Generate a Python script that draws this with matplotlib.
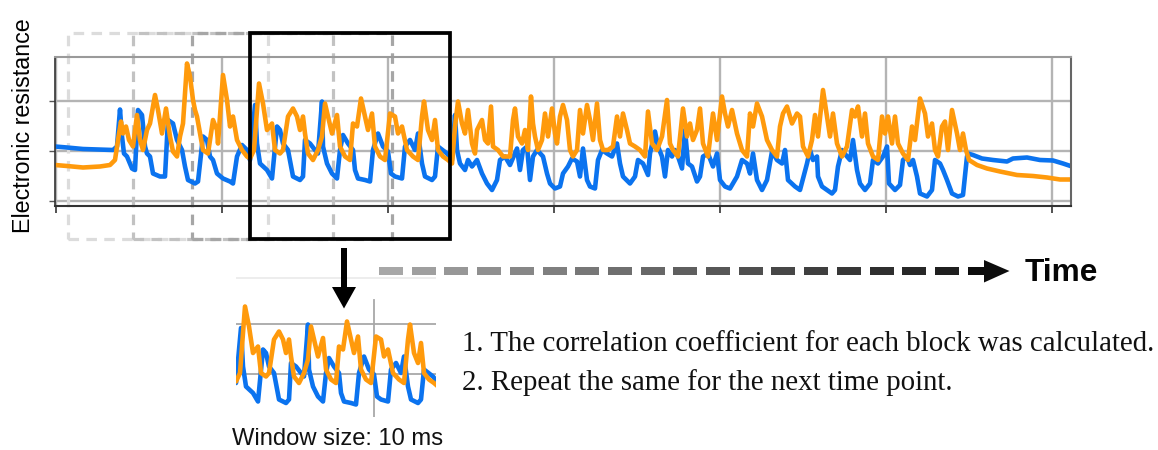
import numpy as np
import matplotlib
matplotlib.use("Agg")
import matplotlib.pyplot as plt
from matplotlib.transforms import Affine2D, blended_transform_factory
from matplotlib.patches import Rectangle, Polygon

# ---------------- data (x = sample index, 20 samples per ms; y = resistance, a.u.) ----
blue_x = [0, 12, 28, 58, 62, 65, 67, 69, 72, 77, 80, 83, 87, 90, 92, 95, 98, 105, 110, 113,
          118, 122, 127, 130, 133, 140, 143, 148, 152, 155, 158, 162, 168, 175, 178, 182, 187,
          192, 195, 200, 202, 205, 212, 217, 222, 225, 228, 233, 238, 245, 248, 250, 255, 260,
          263, 267, 268, 272, 277, 282, 285, 288, 293, 298, 300, 303, 310, 315, 318, 323, 328,
          333, 336, 340, 347, 350, 355, 360, 363, 367, 370, 377, 380, 383, 392, 397, 400, 402,
          405, 410, 413, 417, 422, 427, 432, 437, 442, 445, 450, 455, 462, 465, 468, 472, 475,
          478, 482, 488, 492, 495, 500, 505, 508, 513, 517, 522, 525, 528, 532, 535, 540, 543,
          547, 552, 557, 562, 565, 568, 575, 580, 583, 588, 593, 595, 600, 603, 607, 610, 613,
          617, 620, 623, 627, 630, 633, 637, 642, 645, 648, 653, 658, 662, 665, 670, 675, 682,
          687, 692, 695, 698, 702, 707, 712, 717, 722, 727, 730, 733, 740, 745, 752, 755, 758,
          762, 763, 767, 772, 777, 780, 783, 787, 792, 795, 798, 802, 805, 810, 815, 818, 823,
          828, 832, 834, 840, 845, 848, 852, 855, 858, 862, 865, 872, 877, 880, 885, 888, 892,
          897, 903, 908, 912, 913, 918, 927, 938, 952, 958, 972, 985, 998, 1008, 1017]
blue_y = [1.09, 1.07, 1.04, 1.02, 1.09, 1.83, 1.29, 0.95, 0.89, 0.65, 0.62, 1.82, 1.72, 1.09,
          0.95, 0.89, 0.55, 0.49, 0.49, 1.62, 1.55, 1.22, 1.02, 0.69, 0.42, 0.35, 0.39, 1.29,
          1.22, 0.89, 0.82, 0.55, 0.45, 0.39, 0.35, 0.89, 1.12, 1.02, 0.82, 1.92, 1.15, 0.75,
          0.62, 0.45, 1.49, 1.42, 1.15, 1.02, 0.49, 0.42, 0.49, 1.22, 1.15, 1.02, 0.95, 1.99,
          1.09, 0.75, 0.55, 0.45, 1.02, 1.32, 1.15, 1.02, 0.62, 0.45, 0.42, 0.39, 1.02, 1.35,
          1.09, 0.99, 0.55, 0.49, 0.45, 1.09, 1.22, 1.02, 1.35, 0.75, 0.49, 0.42, 0.49, 1.09,
          0.95, 0.82, 1.72, 1.02, 0.75, 0.62, 0.82, 0.69, 0.82, 0.55, 0.35, 0.22, 0.42, 0.82,
          0.89, 0.72, 1.05, 0.62, 1.02, 1.09, 0.42, 0.89, 1.02, 0.89, 0.55, 0.35, 0.25, 0.29,
          0.55, 0.69, 0.85, 0.79, 0.49, 1.05, 0.42, 0.29, 0.25, 0.82, 1.02, 0.95, 0.89, 1.15,
          0.75, 0.49, 0.35, 0.49, 0.82, 0.75, 0.52, 0.95, 1.39, 1.09, 0.89, 0.49, 1.02, 0.89,
          1.02, 0.89, 0.65, 1.42, 0.75, 0.69, 0.39, 0.49, 0.89, 0.95, 0.69, 0.95, 0.42, 0.29,
          0.25, 0.49, 0.82, 0.75, 0.55, 0.95, 0.42, 0.22, 0.42, 0.99, 0.82, 0.75, 1.02, 0.42,
          0.29, 0.22, 0.75, 1.02, 0.82, 0.89, 0.49, 0.29, 0.22, 0.15, 0.22, 0.69, 1.02, 0.89,
          0.82, 1.22, 0.62, 0.35, 0.22, 0.35, 0.82, 0.75, 0.89, 1.09, 0.35, 0.22, 0.32, 0.82,
          0.89, 0.72, 0.82, 0.49, 0.15, 0.09, 0.22, 0.82, 0.75, 0.62, 0.42, 0.15, 0.09, 0.12,
          0.89, 0.95, 0.92, 0.85, 0.82, 0.79, 0.85, 0.87, 0.82, 0.81, 0.75, 0.69]

orange_x = [0, 12, 28, 45, 55, 60, 63, 66, 68, 71, 74, 78, 82, 85, 88, 92, 95, 100, 103, 107,
            111, 115, 118, 122, 125, 128, 132, 135, 138, 140, 142, 145, 148, 153, 158, 162,
            163, 168, 172, 175, 178, 182, 187, 192, 195, 199, 204, 208, 212, 217, 220, 225,
            228, 233, 238, 242, 245, 248, 250, 253, 258, 263, 267, 270, 273, 277, 282, 285,
            290, 295, 298, 302, 306, 310, 313, 317, 320, 325, 330, 335, 340, 343, 347, 352,
            358, 363, 367, 369, 373, 377, 380, 383, 388, 393, 397, 400, 403, 407, 410, 413,
            417, 420, 422, 427, 430, 433, 436, 438, 443, 448, 455, 458, 460, 463, 467, 470,
            473, 476, 478, 480, 483, 487, 490, 493, 497, 500, 502, 505, 508, 512, 515, 518,
            522, 525, 528, 532, 535, 538, 542, 545, 548, 553, 558, 562, 565, 568, 572, 575,
            580, 585, 590, 593, 597, 602, 607, 612, 615, 618, 623, 628, 632, 635, 638, 642,
            645, 648, 653, 658, 662, 667, 670, 673, 677, 682, 687, 692, 695, 698, 702, 707,
            712, 717, 722, 725, 728, 732, 737, 742, 745, 748, 753, 757, 760, 763, 768, 772,
            775, 778, 782, 787, 792, 797, 800, 803, 807, 810, 813, 818, 823, 827, 830, 833,
            837, 840, 843, 848, 853, 857, 860, 865, 870, 873, 877, 880, 883, 887, 890, 893,
            897, 902, 905, 908, 911, 914, 922, 932, 945, 962, 978, 992, 1005, 1017]
orange_y = [0.72, 0.70, 0.67, 0.69, 0.72, 0.82, 1.22, 1.59, 1.35, 1.49, 1.22, 1.09, 1.72,
            1.22, 1.02, 1.42, 1.55, 2.12, 1.82, 1.35, 1.85, 1.29, 0.99, 0.89, 1.29, 1.55,
            2.75, 2.49, 2.02, 1.82, 1.69, 1.35, 1.02, 0.95, 1.62, 1.42, 1.15, 2.52, 2.02,
            1.49, 1.69, 1.22, 1.02, 0.89, 0.85, 1.02, 2.35, 1.95, 1.42, 1.55, 1.02, 0.95,
            1.02, 1.69, 1.85, 1.69, 1.42, 1.69, 1.35, 0.95, 0.82, 1.02, 1.29, 1.95, 1.69,
            1.35, 1.72, 1.09, 0.89, 0.82, 1.55, 1.49, 2.05, 1.69, 1.42, 1.75, 1.09, 0.89,
            0.82, 1.75, 1.69, 1.35, 1.49, 1.02, 0.89, 0.82, 1.69, 1.99, 1.42, 1.22, 1.62,
            1.02, 0.89, 0.82, 0.75, 1.49, 1.99, 1.55, 1.35, 1.82, 1.15, 0.95, 1.42, 1.62,
            1.22, 1.15, 1.89, 1.09, 1.02, 0.89, 0.89, 1.62, 1.85, 1.29, 1.15, 1.42, 1.02,
            2.09, 1.55, 1.29, 1.02, 1.22, 1.75, 1.29, 1.85, 1.35, 1.15, 1.69, 1.92, 1.62,
            1.02, 0.89, 1.02, 1.82, 1.35, 1.92, 1.62, 1.22, 1.95, 1.22, 1.02, 1.02, 1.09,
            1.69, 1.29, 1.75, 1.42, 1.15, 1.09, 1.02, 0.89, 1.79, 1.15, 1.02, 1.29, 2.02,
            1.15, 1.02, 0.89, 1.85, 1.29, 1.55, 1.22, 1.42, 1.85, 1.15, 0.89, 1.75, 1.22,
            2.09, 1.75, 1.49, 1.82, 1.35, 1.02, 0.89, 1.75, 1.49, 1.95, 1.69, 1.22, 1.02,
            0.89, 1.49, 1.75, 1.89, 1.55, 1.75, 1.69, 1.09, 0.89, 1.22, 1.72, 1.29, 2.22,
            1.69, 1.29, 1.75, 1.15, 0.89, 1.09, 1.82, 1.69, 1.89, 1.29, 1.75, 1.15, 0.89,
            0.82, 1.69, 1.35, 1.69, 1.15, 1.69, 1.15, 0.95, 0.82, 1.49, 1.22, 2.05, 1.75,
            1.29, 1.55, 1.02, 0.89, 1.49, 1.59, 1.02, 1.82, 1.35, 1.02, 1.35, 1.02, 0.82,
            0.72, 0.65, 0.59, 0.52, 0.50, 0.47, 0.43, 0.43]

window_starts = [13, 78, 137, 195]   # sliding windows (samples)
window_len = 200                     # 10 ms
grid_x = [1, 167, 333, 499, 665, 831, 997]
grid_y = [0, 1, 2]

ylabel = "Electronic resistance"
window_text = "Window size: 10 ms"
step_texts = ["1. The correlation coefficient for each block was calculated.",
              "2. Repeat the same for the next time point."]
time_text = "Time"

BLUE = "#0b73ef"
ORANGE = "#ff9a0c"
LW = 3.3

# ---------------- figure ----------------
W, H = 1158, 450
fig = plt.figure(figsize=(W / 100, H / 100), dpi=100)
pix = Affine2D().scale(1 / W, -1 / H).translate(0, 1) + fig.transFigure


def fig_box(x0, y0, x1, y1):
    return [x0 / W, 1 - y1 / H, (x1 - x0) / W, (y1 - y0) / H]


ax = fig.add_axes(fig_box(55, 57, 1071, 205.7))
ax.set_xlim(0, 1016)
ax.set_ylim(-0.094, 2.88)
ax.set_axisbelow(True)
ax.set_xticks(grid_x)
ax.set_yticks(grid_y)
ax.set_xticklabels([])
ax.set_yticklabels([])
ax.grid(True, color="#b4b4b4", lw=1.7)
ax.tick_params(axis="x", direction="out", length=5, width=1.2, color="#333333")
ax.tick_params(axis="y", direction="out", length=4, width=1.0, color="#555555")
ax.spines["left"].set_color("#333333")
ax.spines["left"].set_linewidth(1.2)
ax.spines["bottom"].set_color("#333333")
ax.spines["bottom"].set_linewidth(1.5)
ax.spines["top"].set_color("#9a9a9a")
ax.spines["top"].set_linewidth(1.5)
ax.spines["right"].set_color("#666666")
ax.spines["right"].set_linewidth(1.5)

ax.plot(blue_x, blue_y, color=BLUE, lw=LW, zorder=2, solid_joinstyle="round")
ax.plot(orange_x, orange_y, color=ORANGE, lw=LW, zorder=2.1, solid_joinstyle="round")

# sliding windows
bt = blended_transform_factory(ax.transData, ax.transAxes)
y_lo = (205.7 - 239.3) / 148.7
y_hi = (205.7 - 33.5) / 148.7
win_colors = ["#dcdcdc", "#c2c2c2", "#a6a6a6"]
for s, c in zip(window_starts[:-1], win_colors):
    ax.add_patch(Rectangle((s, y_lo), window_len, y_hi - y_lo, transform=bt,
                           fill=False, ec=c, lw=2.3, ls=(0, (3.3, 2.3)),
                           clip_on=False, zorder=1.5))
ax.add_patch(Rectangle((window_starts[-1], y_lo), window_len, y_hi - y_lo, transform=bt,
                       fill=False, ec="black", lw=2.7, clip_on=False, zorder=3))

# inset: the current window
s0 = window_starts[-1]
iax = fig.add_axes(fig_box(236, 276, 436, 417))
iax.set_xlim(s0, s0 + window_len)
iax.set_ylim(0.14, 2.96)
for sp in iax.spines.values():
    sp.set_visible(False)
iax.set_xticks([])
iax.set_yticks([])
iax.patch.set_alpha(0)
for gy in grid_y[1:]:
    iax.axhline(gy, color="#a8a8a8", lw=1.3, zorder=0.5)
iax.axhline(2.93, color="#ececec", lw=1.3, zorder=0.5)
iax.axvline(grid_x[2], ymin=0, ymax=(2.48 - 0.14) / 2.82, color="#a8a8a8", lw=1.3,
            zorder=0.5)
iax.plot(blue_x, blue_y, color=BLUE, lw=LW, zorder=2, solid_joinstyle="round")
iax.plot(orange_x, orange_y, color=ORANGE, lw=LW, zorder=2.1, solid_joinstyle="round")

# down arrow
fig.add_artist(Polygon([(341, 248), (347, 248), (347, 287), (356, 287), (344, 308.5),
                        (332, 287), (341, 287)], closed=True, transform=pix,
                       fc="black", ec="none"))

# dashed time arrow with gradient
n_dash = 18
for i in range(n_dash):
    g = 0.655 - (0.655 - 0.12) * i / (n_dash - 1)
    x0 = 379 + i * 32.7
    fig.add_artist(Rectangle((x0, 267), 24, 8, transform=pix,
                             fc=(g, g, g), ec="none"))
fig.add_artist(Polygon([(968, 267), (984, 267), (984, 260), (1009.5, 271), (984, 282.5),
                        (984, 275), (968, 275)], closed=True, transform=pix,
                       fc="#0d0d0d", ec="none"))

# texts
t_y = fig.text(24, 126, ylabel, transform=pix, rotation=90, ha="center", va="center",
               family="Liberation Sans", fontsize=16)
t_w = fig.text(337.5, 445, window_text, transform=pix, ha="center", va="baseline",
               family="Liberation Sans", fontsize=16, color="#111111")
t_1 = fig.text(462, 351, step_texts[0], transform=pix, ha="left", va="baseline",
               family="Liberation Serif", fontsize=18, color="#111111")
t_2 = fig.text(462, 390, step_texts[1], transform=pix, ha="left", va="baseline",
               family="Liberation Serif", fontsize=18, color="#111111")
t_t = fig.text(1025, 281, time_text, transform=pix, ha="left", va="baseline",
               family="Liberation Sans", fontweight="bold", fontsize=20, color="#050505")

fig.canvas.draw()
r = fig.canvas.get_renderer()


def fit(t, target, use_height=False):
    bb = t.get_window_extent(r)
    cur = bb.height if use_height else bb.width
    t.set_fontsize(t.get_fontsize() * target / cur)


fit(t_y, 215, use_height=True)
fit(t_w, 211)
fit(t_1, 693)
t_2.set_fontsize(t_1.get_fontsize())
fit(t_t, 73)

fig.savefig("out.png", dpi=100)
